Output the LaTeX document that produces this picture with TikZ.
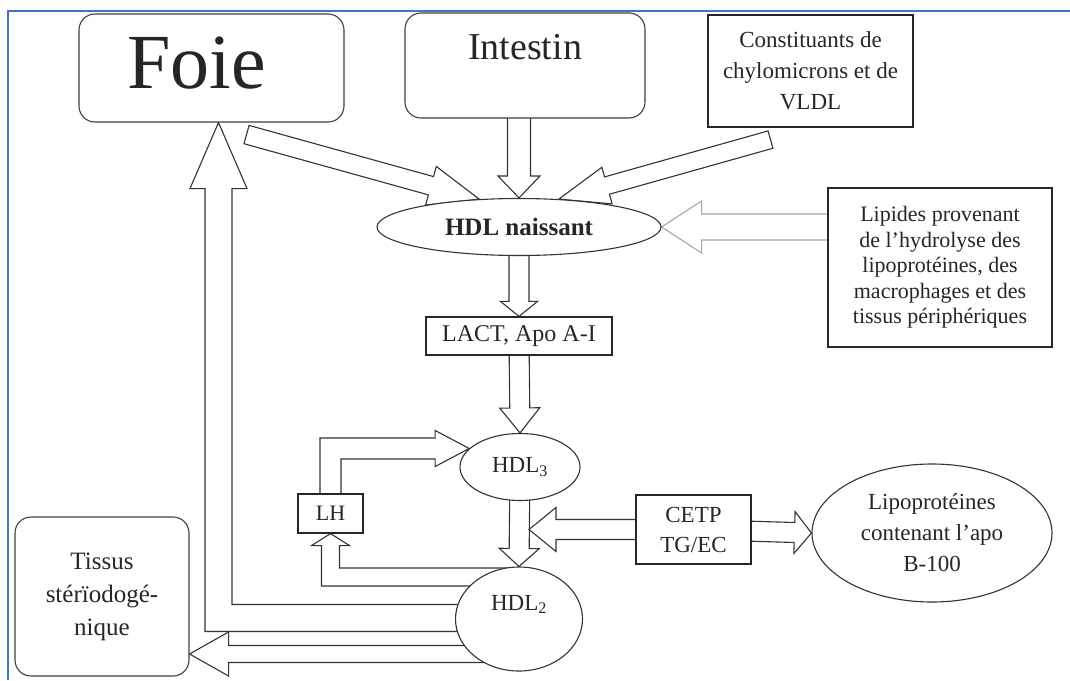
\documentclass[tikz,border=0pt]{standalone}
\usepackage{fontspec}
\setmainfont{Liberation Serif}
\usetikzlibrary{calc, shapes.geometric, backgrounds}

\definecolor{cadre}{RGB}{68,114,196}

% #1 style, #2 tail, #3 tip, #4 shaft half width, #5 head half width, #6 head length
\newcommand{\fatarrow}[6][]{%
  \filldraw[fat, #1] let \p1 = ($(#3)-(#2)$), \n1 = {atan2(\y1,\x1)}, \n2 = {veclen(\x1,\y1)} in
    [shift = {(#2)}, rotate = \n1] (0,#4) -- (\n2-#6,#4) -- (\n2-#6,#5) -- (\n2,0)
    -- (\n2-#6,-#5) -- (\n2-#6,-#4) -- (0,-#4) -- cycle;}

\begin{document}
\begin{tikzpicture}[x = 1pt, y = -1pt,
    every node/.style = {text = black!85},
    fat/.style = {draw = black!80, fill = white, line width = 1.1pt, line join = miter},
    organe/.style = {draw = black!75, fill = white, line width = 1.1pt, rounded corners = 16pt, align = center},
    boite/.style = {draw = black!85, fill = white, line width = 1.2pt, align = center, inner sep = 0pt},
    lipo/.style = {ellipse, draw = black!80, fill = white, line width = 1.1pt, inner sep = 0pt, align = center}]

    \useasboundingbox (0,0) rectangle (1070,680);
    \draw[cadre, line width = 2pt] (8,680) -- (8,11) -- (1070,11);

    % sources
    \node[organe, minimum width = 265pt, minimum height = 108pt, font = \fontsize{78}{80}\selectfont,
        text depth = 10pt] (foie) at (211.5,68) {Foie\hspace*{30pt}};
    \node[organe, minimum width = 240pt, minimum height = 105pt, font = \fontsize{38}{40}\selectfont,
        text height = 27pt, text depth = 39pt] (intestin) at (525,65.5) {Intestin};
    \node[boite, minimum width = 205pt, minimum height = 112pt, font = \fontsize{23}{31}\selectfont] (const) at (810.5,71)
        {Constituants de\\chylomicrons et de\\VLDL};
    \node[boite, minimum width = 224pt, minimum height = 159pt, font = \fontsize{22}{25.5}\selectfont] (lipides) at (940,267.5)
        {Lipides provenant\\de l’hydrolyse des\\lipoprotéines, des\\macrophages et des\\tissus périphériques};

    % HDL
    \node[lipo, minimum width = 284pt, minimum height = 57pt, font = \bfseries\fontsize{25}{27}\selectfont] (naiss) at (519,227) {HDL naissant};
    \node[boite, minimum width = 186pt, minimum height = 38pt, font = \fontsize{24}{26}\selectfont] (lact) at (519,336) {LACT, Apo A-I};
    \node[lipo, minimum width = 120pt, minimum height = 67pt, font = \fontsize{23}{25}\selectfont] (hdl3) at (520,467) {HDL\textsubscript{3}};
    \node[lipo, minimum width = 127pt, minimum height = 104pt, font = \fontsize{23}{25}\selectfont,
        text height = 16pt, text depth = 34pt] (hdl2) at (519,619) {HDL\textsubscript{2}};
    \node[boite, minimum width = 65pt, minimum height = 39pt, font = \fontsize{22}{24}\selectfont] (lh) at (330.5,513.5) {LH};
    \node[boite, minimum width = 115pt, minimum height = 69pt, font = \fontsize{23}{30}\selectfont] (cetp) at (693.5,529.5) {CETP\\TG/EC};
    \node[lipo, minimum width = 240pt, minimum height = 138pt, font = \fontsize{23}{31}\selectfont] (lipo) at (932,533)
        {Lipoprotéines\\contenant l’apo\\B-100};
    \node[organe, minimum width = 174pt, minimum height = 159pt, font = \fontsize{25}{33}\selectfont] (tissus) at (102,596.5)
        {Tissus\\stérïodogé-\\nique};

    \coordinate (foieout) at ($(foie.south)+(35,12)$);
    \coordinate (intout) at (naiss.north |- intestin.center);
    \coordinate (constout) at ($(const.south)+(-40,12)$);
    \coordinate (lipout) at (lipides.center |- naiss.east);
    \coordinate (cetptip) at ($(cetp.west -| hdl2.north)+(10,0)$);
    \coordinate (lhtip) at (hdl3.160);
    \coordinate (hdlup) at ($(hdl2.center)+(0,-42)$);
    \coordinate (hdlfoie) at ($(hdl2.center)+(0,-1)$);
    \coordinate (foietip) at ($(foie.south)+(7,0)$);
    \coordinate (hdltis) at ($(hdl2.center)+(0,35)$);
    \coordinate (tistip) at (tissus.east |- hdltis);

    \begin{pgfonlayer}{background}
        % vers HDL naissant
        \fatarrow{foieout}{naiss.145}{9.5}{20}{50}
        \fatarrow{intout}{naiss.north}{11.5}{21}{22}
        \fatarrow{constout}{naiss.35}{9}{19}{50}
        \fatarrow[draw = black!35]{lipout}{naiss.east}{13}{26}{40}

        % LH -> HDL3
        \filldraw[fat] ($(lh.north)+(-10.5,0)$) |- ($(lhtip)+(-34,-10.5)$) -- ($(lhtip)+(-34,-18)$) -- (lhtip)
            -- ($(lhtip)+(-34,18)$) -- ($(lhtip)+(-34,10.5)$) -| ($(lh.north)+(10.5,0)$);
        % HDL2 -> LH
        \filldraw[fat] ($(hdlup)+(0,-9)$) -| ($(lh.south)+(9,12)$) -- ($(lh.south)+(19,12)$) -- (lh.south)
            -- ($(lh.south)+(-19,12)$) -- ($(lh.south)+(-9,12)$) |- ($(hdlup)+(0,9)$);
        % HDL2 -> Foie
        \filldraw[fat] ($(hdlfoie)+(0,-13.5)$) -| ($(foietip)+(13.5,66)$) -- ($(foietip)+(28.5,66)$) -- (foietip)
            -- ($(foietip)+(-28.5,66)$) -- ($(foietip)+(-13.5,66)$) |- ($(hdlfoie)+(0,13.5)$);
        % HDL2 -> tissus
        \fatarrow{hdltis}{tistip}{8.5}{22}{39}

        % axe central
        \fatarrow{naiss.center}{lact.north}{10}{18.5}{15}
        \fatarrow{lact.center}{hdl3.north}{10}{20}{25}
        \fatarrow{hdl3.center}{hdl2.north}{10}{20}{18}
        \fatarrow{cetp.center}{cetptip}{10}{22}{27}
        \fatarrow{cetp.center}{lipo.west}{10}{21}{17}
    \end{pgfonlayer}
\end{tikzpicture}
\end{document}
